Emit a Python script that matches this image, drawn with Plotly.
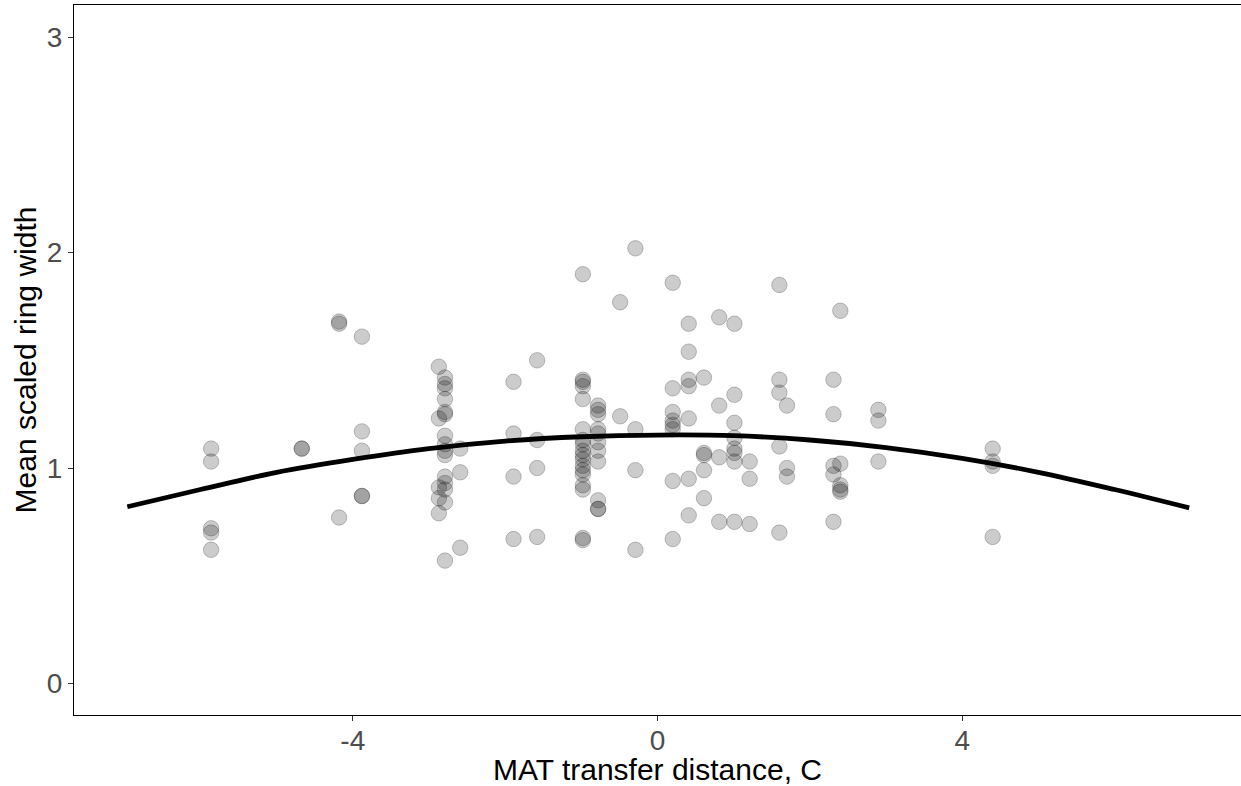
import plotly.graph_objects as go

# Observed points: MAT transfer distance (C) and mean scaled ring width
mat_distance = (
    [-5.86] * 5 + [-4.67] * 2 + [-4.18] * 3 + [-3.88] * 5 + [-2.87] * 5
    + [-2.79] * 15 + [-2.59] * 3 + [-1.89] * 4 + [-1.58] * 4 + [-0.98] * 18
    + [-0.78] * 11 + [-0.49] * 2 + [-0.29] * 4 + [0.20] * 8 + [0.41] * 7
    + [0.61] * 5 + [0.81] * 4 + [1.01] * 8 + [1.21] * 3 + [1.60] * 5
    + [1.70] * 3 + [2.31] * 5 + [2.40] * 5 + [2.90] * 3 + [4.40] * 4
)
ring_width = [
    1.09, 1.03, 0.72, 0.70, 0.62,
    1.09, 1.09,
    1.68, 1.67, 0.77,
    1.61, 1.17, 1.08, 0.87, 0.87,
    1.47, 1.23, 0.91, 0.86, 0.79,
    1.42, 1.39, 1.37, 1.32, 1.26, 1.25, 1.15, 1.11, 1.08, 1.06, 0.96, 0.93, 0.90, 0.84, 0.57,
    1.09, 0.98, 0.63,
    1.40, 1.16, 0.96, 0.67,
    1.50, 1.13, 1.00, 0.68,
    1.90, 1.41, 1.40, 1.38, 1.32, 1.18, 1.13, 1.11, 1.08, 1.06, 1.04, 1.01, 0.99, 0.97, 0.92, 0.90, 0.675, 0.665,
    1.29, 1.27, 1.25, 1.18, 1.16, 1.12, 1.08, 1.03, 0.85, 0.81, 0.81,
    1.77, 1.24,
    2.02, 1.18, 0.99, 0.62,
    1.86, 1.37, 1.26, 1.22, 1.20, 1.18, 0.94, 0.67,
    1.67, 1.54, 1.41, 1.38, 1.23, 0.95, 0.78,
    1.42, 1.07, 1.06, 0.99, 0.86,
    1.70, 1.29, 1.05, 0.75,
    1.67, 1.34, 1.21, 1.14, 1.09, 1.07, 1.03, 0.75,
    1.03, 0.95, 0.74,
    1.85, 1.41, 1.35, 1.10, 0.70,
    1.29, 1.00, 0.96,
    1.41, 1.25, 1.01, 0.97, 0.75,
    1.73, 1.02, 0.92, 0.90, 0.89,
    1.27, 1.22, 1.03,
    1.09, 1.03, 1.01, 0.68,
]

# Fitted curve
fit_x = [-6.96, -6, -5, -4, -3, -2, -1, 0, 1, 2, 3, 4, 5, 6, 6.98]
fit_y = [0.82, 0.90, 0.98, 1.04, 1.09, 1.125, 1.145, 1.153, 1.15, 1.13, 1.095, 1.045, 0.98, 0.90, 0.815]

x_tickvals = [-4, 0, 4]
x_ticktext = ["-4", "0", "4"]
y_tickvals = [0, 1, 2, 3]
y_ticktext = ["0", "1", "2", "3"]

fig = go.Figure()
fig.add_trace(go.Scatter(
    x=mat_distance, y=ring_width, mode="markers",
    marker=dict(size=15.5, color="rgba(0,0,0,0.2)",
                line=dict(color="rgba(0,0,0,0.22)", width=1)),
    showlegend=False, hoverinfo="skip",
))
fig.add_trace(go.Scatter(
    x=fit_x, y=fit_y, mode="lines", line=dict(color="black", width=4.8, shape="spline"),
    showlegend=False, hoverinfo="skip",
))

font_family = "Liberation Sans, Arial, sans-serif"
fig.update_layout(
    width=1241, height=786,
    margin=dict(l=74, r=0, t=5, b=71),
    plot_bgcolor="white", paper_bgcolor="white",
    font=dict(family=font_family, size=30, color="black"),
    xaxis=dict(
        range=[-7.66, 7.66], tickvals=x_tickvals, ticktext=x_ticktext,
        showgrid=False, zeroline=False, showline=True, linecolor="black", linewidth=1,
        mirror=True, ticks="outside", ticklen=5, tickcolor="#333333",
        tickfont=dict(size=28, color="#4d4d4d"), ticklabelstandoff=-5,
        title=dict(text="MAT transfer distance, C", font=dict(size=30, color="black"), standoff=2),
    ),
    yaxis=dict(
        range=[-0.147, 3.150], tickvals=y_tickvals, ticktext=y_ticktext,
        showgrid=False, zeroline=False, showline=True, linecolor="black", linewidth=1,
        mirror=True, ticks="outside", ticklen=5, tickcolor="#333333",
        tickfont=dict(size=28, color="#4d4d4d"),
        title=dict(text="Mean scaled ring width", font=dict(size=30, color="black"), standoff=1),
    ),
)

fig.write_html("out.html")
